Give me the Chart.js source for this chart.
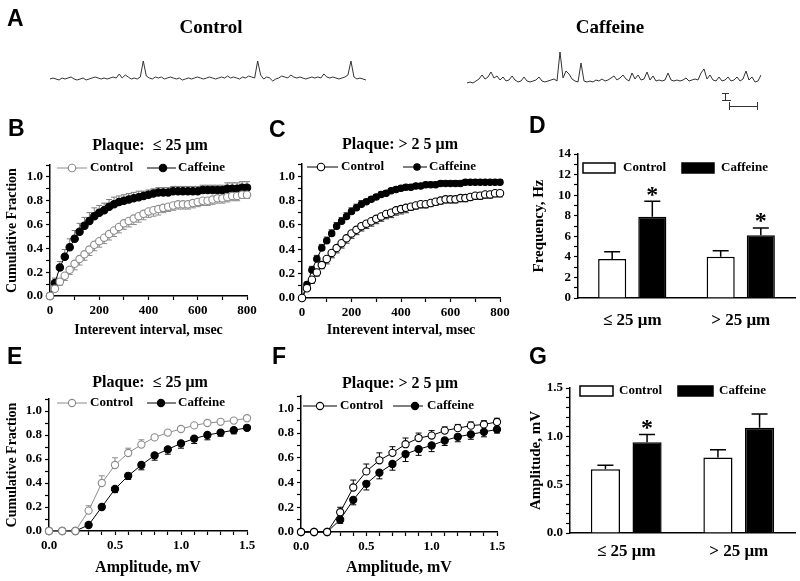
<!DOCTYPE html>
<html><head><meta charset="utf-8">
<script src="https://cdn.jsdelivr.net/npm/chart.js@4.4.0/dist/chart.umd.min.js"></script>
<style>
html,body{margin:0;padding:0;background:#fff;}
#fig{position:relative;width:800px;height:581px;overflow:hidden;background:#fff;}
#fig canvas{position:absolute;left:0;top:0;}
.t{position:absolute;white-space:pre;line-height:1;color:#000;}
.serif{font-family:'Liberation Serif','Times New Roman',serif;font-weight:bold;}
.sans{font-family:'Liberation Sans',Arial,sans-serif;font-weight:bold;}
.sb{position:absolute;background:#333;}
</style></head><body><div id="fig"></div>
<script>
// ---------- DATA ----------
// Panel A traces (amplitude, arbitrary units, one sample every ~3 px)
const traceControl = [0,1,0,-1,1,0,1,2,0,-1,0,1,-1,0,1,2,1,0,1,0,1,2,1,5,1,4,2,0,1,0,2,18,3,1,0,2,1,2,0,1,2,1,0,1,-1,0,1,0,1,2,1,0,1,2,1,0,1,2,1,3,1,2,1,0,2,1,3,2,1,18,4,0,2,1,-2,0,1,3,2,1,4,2,1,2,1,0,1,2,1,2,1,5,2,1,2,1,0,1,2,4,18,2,0,1,0,-1];
const traceCaffeine = [0,1,0,2,4,8,4,6,11,5,7,3,6,2,3,7,3,1,2,6,2,1,2,3,6,2,1,2,3,4,2,31,5,12,9,4,2,1,20,2,1,2,1,3,2,4,2,3,5,7,3,5,8,4,2,10,4,8,3,4,11,3,7,2,3,2,3,10,3,2,3,2,3,5,2,3,4,3,10,14,4,8,3,2,6,2,3,6,2,3,6,2,4,12,3,6,1,2,8];

// Panels B, C: interevent interval (msec)
const intervalMs = [0,20,40,60,80,100,120,140,160,180,200,220,240,260,280,300,320,340,360,380,400,420,440,460,480,500,520,540,560,580,600,620,640,660,680,700,720,740,760,780,800];
const bControl    = [0,0.06,0.12,0.17,0.22,0.27,0.31,0.35,0.39,0.43,0.46,0.49,0.52,0.55,0.58,0.61,0.63,0.65,0.67,0.69,0.71,0.72,0.73,0.74,0.75,0.76,0.77,0.77,0.77,0.78,0.79,0.80,0.80,0.81,0.82,0.82,0.83,0.84,0.84,0.85,0.85];
const bControlErr = [0,0.02,0.03,0.04,0.04,0.05,0.05,0.05,0.05,0.05,0.05,0.05,0.05,0.05,0.05,0.05,0.05,0.05,0.05,0.05,0.05,0.05,0.05,0.04,0.04,0.04,0.04,0.04,0.04,0.04,0.04,0.04,0.04,0.04,0.04,0.04,0.04,0.04,0.04,0.03,0.03];
const bCaffeine    = [0,0.11,0.24,0.33,0.41,0.48,0.54,0.59,0.63,0.67,0.70,0.72,0.75,0.77,0.79,0.80,0.81,0.82,0.83,0.84,0.85,0.86,0.87,0.87,0.87,0.88,0.88,0.88,0.88,0.88,0.88,0.89,0.89,0.89,0.89,0.89,0.90,0.90,0.90,0.91,0.91];
const bCaffeineErr = [0.02,0.04,0.05,0.06,0.07,0.07,0.07,0.07,0.07,0.07,0.06,0.06,0.06,0.06,0.05,0.05,0.05,0.05,0.05,0.04,0.04,0.04,0.04,0.04,0.04,0.04,0.04,0.04,0.04,0.04,0.04,0.04,0.04,0.04,0.04,0.04,0.05,0.05,0.05,0.05,0.05];
const cControl    = [0,0.08,0.15,0.21,0.27,0.32,0.37,0.41,0.45,0.49,0.53,0.56,0.59,0.61,0.63,0.65,0.67,0.69,0.70,0.72,0.73,0.74,0.75,0.76,0.77,0.77,0.78,0.79,0.80,0.81,0.81,0.81,0.82,0.82,0.83,0.84,0.84,0.85,0.85,0.86,0.86];
const cControlErr = [0,0.02,0.03,0.03,0.03,0.04,0.04,0.04,0.04,0.04,0.04,0.04,0.04,0.04,0.04,0.04,0.04,0.04,0.04,0.04,0.04,0.04,0.03,0.03,0.03,0.03,0.03,0.03,0.03,0.03,0.03,0.03,0.03,0.03,0.03,0.03,0.03,0.03,0.03,0.03,0.03];
const cCaffeine    = [0,0.11,0.23,0.32,0.41,0.47,0.53,0.59,0.63,0.67,0.71,0.74,0.77,0.79,0.81,0.83,0.85,0.86,0.88,0.89,0.90,0.91,0.91,0.92,0.92,0.93,0.93,0.93,0.94,0.94,0.94,0.94,0.94,0.95,0.95,0.95,0.95,0.95,0.95,0.95,0.95];
const cCaffeineErr = [0.01,0.02,0.03,0.03,0.03,0.03,0.03,0.03,0.03,0.03,0.03,0.03,0.03,0.02,0.02,0.02,0.02,0.02,0.02,0.02,0.02,0.02,0.02,0.02,0.02,0.02,0.02,0.02,0.02,0.02,0.02,0.02,0.02,0.02,0.02,0.02,0.02,0.02,0.02,0.02,0.02];

// Panels E, F: amplitude (mV)
const amplitudeMv = [0,0.1,0.2,0.3,0.4,0.5,0.6,0.7,0.8,0.9,1.0,1.1,1.2,1.3,1.4,1.5];
const eControl     = [0,0,0,0.17,0.40,0.55,0.65,0.72,0.78,0.82,0.85,0.88,0.90,0.91,0.92,0.94];
const eControlErr  = [0,0,0,0.04,0.06,0.06,0.04,0.04,0.02,0.02,0.01,0.01,0.01,0.01,0.01,0.01];
const eCaffeine    = [0,0,0,0.05,0.20,0.35,0.46,0.55,0.63,0.68,0.73,0.77,0.80,0.82,0.84,0.86];
const eCaffeineErr = [0,0,0,0.01,0.02,0.03,0.03,0.04,0.04,0.04,0.04,0.04,0.04,0.03,0.03,0.02];
const fControl     = [0,0,0,0.16,0.36,0.49,0.58,0.64,0.71,0.76,0.78,0.82,0.84,0.86,0.87,0.89];
const fControlErr  = [0,0,0,0.04,0.06,0.06,0.06,0.05,0.05,0.04,0.04,0.03,0.03,0.03,0.03,0.03];
const fCaffeine    = [0,0,0,0.10,0.26,0.39,0.48,0.55,0.63,0.67,0.70,0.74,0.77,0.79,0.81,0.83];
const fCaffeineErr = [0,0,0,0.03,0.04,0.05,0.05,0.05,0.06,0.05,0.05,0.04,0.04,0.04,0.04,0.03];

// Panels D, G: bar groups
const sizeGroups = ['\u2264 25 \u03bcm', '> 25 \u03bcm'];
const freqControl = [3.8, 4.0];
const freqControlErr = [0.7, 0.6];
const freqCaffeine = [7.9, 6.1];
const freqCaffeineErr = [1.5, 0.7];
const freqSignificant = [true, true];
const ampControl = [0.66, 0.78];
const ampControlErr = [0.04, 0.08];
const ampCaffeine = [0.94, 1.09];
const ampCaffeineErr = [0.08, 0.14];
const ampSignificant = [true, false];

// ---------- RENDER ----------
const FONT = "'Liberation Serif', 'Times New Roman', serif";
const fig = document.getElementById('fig');
function addText(txt, x, y, cls, size, anchor) {
  const d = document.createElement('div');
  d.className = 't ' + cls;
  d.style.fontSize = size + 'px';
  d.style.left = x + 'px'; d.style.top = y + 'px';
  d.style.transform = anchor === 'left' ? 'translate(0,-50%)' : 'translate(-50%,-50%)';
  d.textContent = txt;
  fig.appendChild(d);
}
function sb(x, y, w, h) {
  const d = document.createElement('div');
  d.className = 'sb';
  Object.assign(d.style, {left: x + 'px', top: y + 'px', width: w + 'px', height: h + 'px'});
  fig.appendChild(d);
}
function newCanvas() {
  const c = document.createElement('canvas');
  c.width = 800; c.height = 581;
  fig.appendChild(c);
  return c;
}

const errorBarPlugin = {
  id: 'errorBars',
  beforeDatasetsDraw(chart) { drawErr(chart, false); },
  afterDatasetsDraw(chart) { drawErr(chart, true); }
};
function drawErr(chart, after) {
  const ctx = chart.ctx, ys = chart.scales.y;
  chart.data.datasets.forEach((ds, i) => {
    if (!ds.err || (!!ds.errAfter) !== after) return;
    const meta = chart.getDatasetMeta(i);
    ctx.save();
    ctx.strokeStyle = ds.errColor; ctx.lineWidth = ds.errWidth;
    meta.data.forEach((el, j) => {
      const e = ds.err[j];
      const raw = ds.data[j];
      const v = (typeof raw === 'object') ? raw.y : raw;
      const x = el.x;
      const y0 = ys.getPixelForValue(v);
      const y1 = ys.getPixelForValue(v + ds.errDir * e);
      if (e) {
        ctx.beginPath();
        ctx.moveTo(x, y0); ctx.lineTo(x, y1);
        ctx.moveTo(x - ds.cap / 2, y1); ctx.lineTo(x + ds.cap / 2, y1);
        ctx.stroke();
      }
      if (ds.sig && ds.sig[j]) {
        ctx.fillStyle = '#000';
        ctx.font = 'bold 24px ' + FONT;
        ctx.textAlign = 'center'; ctx.textBaseline = 'middle';
        ctx.fillText('*', x, y1 - 6);
      }
    });
    ctx.restore();
  });
}

const legendPlugin = {
  id: 'panelLegend',
  afterDraw(chart) {
    const ctx = chart.ctx;
    chart.data.datasets.forEach(ds => {
      const it = ds.legendPos; if (!it) return;
      ctx.save();
      if (it.box) {
        ctx.fillStyle = ds.backgroundColor; ctx.strokeStyle = ds.borderColor; ctx.lineWidth = ds.borderWidth;
        ctx.fillRect(it.x1, it.y - it.h / 2, it.x2 - it.x1, it.h);
        ctx.strokeRect(it.x1, it.y - it.h / 2, it.x2 - it.x1, it.h);
      } else {
        ctx.strokeStyle = ds.borderColor; ctx.lineWidth = ds.borderWidth;
        ctx.beginPath(); ctx.moveTo(it.x1, it.y); ctx.lineTo(it.x2, it.y); ctx.stroke();
        ctx.beginPath(); ctx.arc(it.mx, it.y, ds.pointRadius, 0, Math.PI * 2);
        ctx.fillStyle = ds.pointBackgroundColor; ctx.fill();
        ctx.lineWidth = ds.pointBorderWidth; ctx.strokeStyle = ds.pointBorderColor; ctx.stroke();
      }
      ctx.fillStyle = '#000'; ctx.font = 'bold 13px ' + FONT;
      ctx.textBaseline = 'middle'; ctx.textAlign = 'left';
      ctx.fillText(ds.label, it.tx, it.y);
      ctx.restore();
    });
  }
};

const tickFont = {family: FONT, size: 13, weight: 'bold'};
function axisBase() {
  return {
    border: {color: '#000', width: 1.5},
    grid: {drawOnChartArea: false, tickLength: 4, tickColor: '#000', tickWidth: 1.2},
  };
}
const fracFmt = v => { const k = Math.round(v * 10); return (k % 2 === 0 && k <= 10) ? (k / 10).toFixed(1) : ''; };

function lineDs(label, xs, ys, err, dir, color, filled, r, errColor, legendPos) {
  return {
    label, data: xs.map((x, i) => ({x, y: ys[i]})),
    err, errDir: dir, errColor, errWidth: 1, cap: 6,
    borderColor: color, borderWidth: 1, pointRadius: r, pointHoverRadius: r,
    pointBackgroundColor: filled ? color : '#fff', pointBorderColor: color, pointBorderWidth: 1.1,
    clip: false, legendPos
  };
}

function linePanel(area, yW, xH, datasets, x, yTitle, xTitle) {
  return new Chart(newCanvas(), {
    type: 'line',
    data: {datasets},
    options: {
      responsive: false, animation: false, events: [],
      layout: {padding: {left: area.l - yW, right: 800 - area.r, top: area.t, bottom: 581 - area.b - xH}},
      plugins: {legend: {display: false}, tooltip: {enabled: false}},
      scales: {
        x: Object.assign(axisBase(), {
          type: 'linear', min: x.min, max: x.max, afterFit(s) { s.height = xH; },
          ticks: {stepSize: x.step, autoSkip: false, maxRotation: 0, padding: 3, color: '#000', font: tickFont, callback: x.fmt},
          title: {display: true, text: xTitle, color: '#000', font: {family: FONT, size: x.titleSize, weight: 'bold'}, padding: {top: 4, bottom: 4}}
        }),
        y: Object.assign(axisBase(), {
          min: 0, max: 1.1, afterFit(s) { s.width = yW; },
          ticks: {stepSize: 0.1, autoSkip: false, padding: 3, color: '#000', font: tickFont, callback: fracFmt},
          title: yTitle ? {display: true, text: yTitle, color: '#000', font: {family: FONT, size: 14, weight: 'bold'}, padding: {top: 4, bottom: 4}} : {display: false}
        })
      }
    },
    plugins: [errorBarPlugin, legendPlugin]
  });
}

function barDs(label, vals, err, sig, fill, legendPos) {
  return {
    label, data: vals, err, errDir: 1, errColor: '#000', errWidth: 1.5, cap: 16, errAfter: true, sig,
    backgroundColor: fill, borderColor: '#000', borderWidth: 1.5,
    categoryPercentage: 0.74, barPercentage: 0.7, legendPos
  };
}
function barPanel(area, yW, xH, datasets, yMax, yStep, yFmt, yTitle, labelPad) {
  return new Chart(newCanvas(), {
    type: 'bar',
    data: {labels: sizeGroups, datasets},
    options: {
      responsive: false, animation: false, events: [],
      layout: {padding: {left: area.l - yW, right: 800 - area.r, top: area.t, bottom: 581 - area.b - xH}},
      plugins: {legend: {display: false}, tooltip: {enabled: false}},
      scales: {
        x: {
          afterFit(s) { s.height = xH; },
          border: {color: '#000', width: 1.5}, grid: {display: false},
          ticks: {padding: labelPad, color: '#000', font: {family: FONT, size: 17, weight: 'bold'}}
        },
        y: Object.assign(axisBase(), {
          min: 0, max: yMax, afterFit(s) { s.width = yW; },
          ticks: {stepSize: yStep, autoSkip: false, padding: 3, color: '#000', font: tickFont, callback: yFmt},
          title: {display: true, text: yTitle, color: '#000', font: {family: FONT, size: 15, weight: 'bold'}, padding: {top: 4, bottom: 4}}
        })
      }
    },
    plugins: [errorBarPlugin, legendPlugin]
  });
}

function tracePanel(vals, area, yMin, yMax) {
  return new Chart(newCanvas(), {
    type: 'line',
    data: {labels: vals.map((_, i) => i), datasets: [{data: vals, borderColor: '#333', borderWidth: 1, pointRadius: 0, tension: 0}]},
    options: {
      responsive: false, animation: false, events: [],
      layout: {padding: {left: area.l, right: 800 - area.r, top: area.t, bottom: 581 - area.b}},
      plugins: {legend: {display: false}, tooltip: {enabled: false}},
      scales: {x: {display: false, offset: false}, y: {display: false, min: yMin, max: yMax}}
    }
  });
}

// Panel A
tracePanel(traceControl, {l: 50, r: 366, t: 55, b: 85}, -6, 24);
tracePanel(traceCaffeine, {l: 467, r: 761, t: 45, b: 90}, -7, 38);
sb(722, 92.5, 7, 1.2); sb(724.5, 93, 1.2, 7); sb(722, 99.5, 9, 1.2);
sb(729, 105.5, 29, 1.2); sb(729, 102, 1.2, 8); sb(757, 102, 1.2, 8);

const msX = {min: 0, max: 800, step: 100, titleSize: 14, fmt: v => (Math.round(v) % 200 === 0 ? String(Math.round(v)) : '')};
const mvX = {min: 0, max: 1.5, step: 0.1, titleSize: 16, fmt: v => { const k = Math.round(v * 10); return k % 5 === 0 ? (k / 10).toFixed(1) : ''; }};

// Panel B
linePanel({l: 50, r: 247, t: 165, b: 296}, 50, 47, [
  lineDs('Control', intervalMs, bControl, bControlErr, -1, '#8c8c8c', false, 3.7, '#8c8c8c', {x1: 57, x2: 87, mx: 72, tx: 90, y: 168}),
  lineDs('Caffeine', intervalMs, bCaffeine, bCaffeineErr, 1, '#000', true, 3.7, '#7a7a7a', {x1: 147, x2: 176, mx: 163, tx: 178, y: 168})
], msX, 'Cumulative Fraction', 'Interevent interval, msec');

// Panel C
linePanel({l: 302, r: 500, t: 164, b: 298}, 40, 45, [
  lineDs('Control', intervalMs, cControl, cControlErr, -1, '#000', false, 3.7, '#333', {x1: 307, x2: 338, mx: 321, tx: 341, y: 167}),
  lineDs('Caffeine', intervalMs, cCaffeine, cCaffeineErr, 1, '#000', true, 3.2, '#333', {x1: 403, x2: 427, mx: 417, tx: 429, y: 167})
], msX, null, 'Interevent interval, msec');

// Panel E
linePanel({l: 49, r: 247, t: 399, b: 531}, 49, 50, [
  lineDs('Control', amplitudeMv, eControl, eControlErr, 1, '#8c8c8c', false, 3.6, '#8c8c8c', {x1: 57, x2: 87, mx: 72, tx: 90, y: 403}),
  lineDs('Caffeine', amplitudeMv, eCaffeine, eCaffeineErr, -1, '#000', true, 3.6, '#000', {x1: 147, x2: 176, mx: 161, tx: 178, y: 403})
], mvX, 'Cumulative Fraction', 'Amplitude, mV');

// Panel F
linePanel({l: 301, r: 497, t: 396, b: 532}, 40, 49, [
  lineDs('Control', amplitudeMv, fControl, fControlErr, 1, '#000', false, 3.6, '#000', {x1: 303, x2: 337, mx: 320, tx: 340, y: 406}),
  lineDs('Caffeine', amplitudeMv, fCaffeine, fCaffeineErr, -1, '#000', true, 3.6, '#000', {x1: 393, x2: 423, mx: 415, tx: 427, y: 406})
], mvX, null, 'Amplitude, mV');

// Panel D
barPanel({l: 578, r: 795, t: 154, b: 298}, 52, 30, [
  barDs('Control', freqControl, freqControlErr, null, '#fff', {box: true, x1: 583, x2: 615, h: 10, tx: 623, y: 168}),
  barDs('Caffeine', freqCaffeine, freqCaffeineErr, freqSignificant, '#000', {box: true, x1: 682, x2: 714, h: 10, tx: 721, y: 168})
], 14, 1, v => (Math.round(v) % 2 === 0 ? String(Math.round(v)) : ''), 'Frequency, Hz', 4);

// Panel G
barPanel({l: 570, r: 795, t: 388, b: 533}, 47, 30, [
  barDs('Control', ampControl, ampControlErr, null, '#fff', {box: true, x1: 580, x2: 613, h: 10, tx: 619, y: 391}),
  barDs('Caffeine', ampCaffeine, ampCaffeineErr, ampSignificant, '#000', {box: true, x1: 678, x2: 713, h: 10, tx: 719, y: 391})
], 1.5, 0.1, v => { const k = Math.round(v * 10); return k % 5 === 0 ? (k / 10).toFixed(1) : ''; }, 'Amplitude, mV', 0);

// Text labels
addText('A', 7, 18, 'sans', 23, 'left');
addText('Control', 211, 25.5, 'serif', 19);
addText('Caffeine', 610, 25.5, 'serif', 19);
addText('B', 8, 128, 'sans', 23, 'left');
addText('C', 269, 128.5, 'sans', 23, 'left');
addText('D', 529, 125, 'sans', 23, 'left');
addText('E', 7, 355.5, 'sans', 23, 'left');
addText('F', 272, 355.5, 'sans', 23, 'left');
addText('G', 529, 355.5, 'sans', 23, 'left');
addText('Plaque:  \u2264 25 \u03bcm', 150, 145, 'serif', 16);
addText('Plaque: > 2 5 \u03bcm', 400, 144, 'serif', 16);
addText('Plaque:  \u2264 25 \u03bcm', 150, 382, 'serif', 16);
addText('Plaque: > 2 5 \u03bcm', 400, 383, 'serif', 16);
</script></body></html>
